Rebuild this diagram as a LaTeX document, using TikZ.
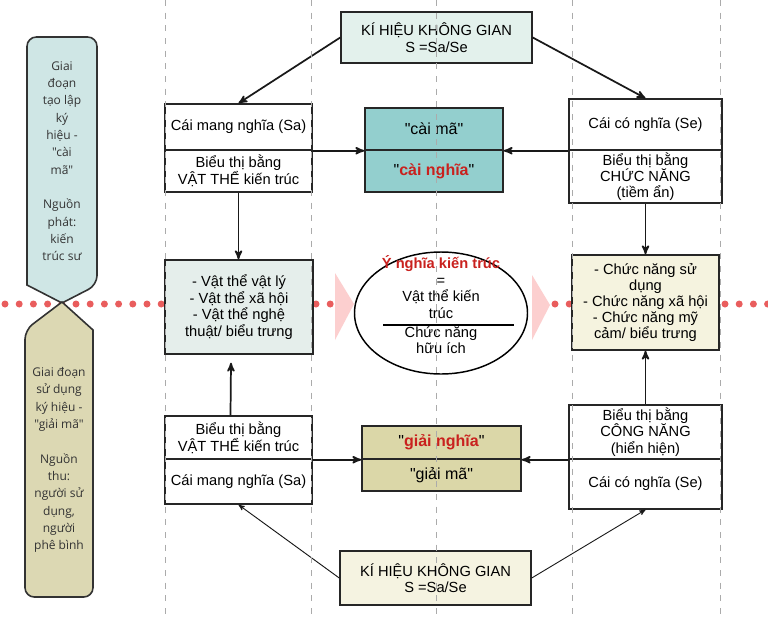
\documentclass[tikz,border=0pt]{standalone}
\usepackage{fontspec}
\setmainfont{Liberation Sans}[Ligatures=TeXOff]
\newfontfamily\pillarfont{Open Sans}[Ligatures=TeXOff]
\usetikzlibrary{arrows,shapes.geometric}
\definecolor{signtop}{HTML}{E3F1EC}
\definecolor{codeteal}{HTML}{93CFCE}
\definecolor{objfill}{HTML}{E5EEEB}
\definecolor{funcfill}{HTML}{F5F3DF}
\definecolor{decodefill}{HTML}{DBD7A8}
\definecolor{signbot}{HTML}{F5F3E1}
\definecolor{stagetop}{HTML}{CFE6E5}
\definecolor{stagebot}{HTML}{DCD8B3}
\definecolor{meanred}{HTML}{C9211E}
\definecolor{chevpink}{HTML}{FCCFCF}
\definecolor{dotred}{HTML}{E95D5D}
\definecolor{guidegray}{HTML}{ABABAB}
\definecolor{inkgray}{HTML}{333333}

\begin{document}
\begin{tikzpicture}[
	x=0.75pt, y=-0.75pt,
	>=stealth',
	font=\fontsize{11}{12.5}\selectfont,
	half/.style={draw=black!85,line width=1.1pt,fill=white,inner sep=0,align=center},
	link/.style={->,line width=1.3pt,black!90},
	thinlink/.style={->,line width=0.7pt,black!90},
	dots/.style={draw=dotred,line width=5.25pt,line cap=round,dash pattern=on 0pt off 10.65pt},
	guide/.style={draw=guidegray,line width=0.6pt,dash pattern=on 4.5pt off 5pt},
	pillar/.style={draw=inkgray,line width=1.2pt},
	ptext/.style={align=center,text=inkgray,font=\pillarfont\fontsize{9}{13}\selectfont}
	]
	\fill[white] (0,0) rectangle (768,618);
	\useasboundingbox (0,0) rectangle (768,618);
	% dotted middle line
	\draw[dots] (5,304) -- (162.5,304);
	\draw[dots] (316,304) -- (331,304);
	\draw[dots] (555,304) -- (570,304);
	\draw[dots] (725,304) -- (768,304);
	\fill[chevpink] (335,273) -- (354,304) -- (335,340) -- cycle;
	\fill[chevpink] (532,275) -- (550,305) -- (532,340) -- cycle;
	% stages
	\draw[pillar,fill=stagetop] (62,303) -- (27,285) [rounded corners=7] -- (27,37) -- (97,37) -- (97,285) [sharp corners] -- cycle;
	\draw[pillar,fill=stagebot] (62,302) -- (93,330) [rounded corners=7] -- (93,597) -- (25,597) -- (25,330) [sharp corners] -- cycle;
	\node[ptext] (stageTop) at (62,161) {Giai\\đoạn\\tạo lập\\ký\\hiệu -\\"cài\\mã"\\[13pt]Nguồn\\phát:\\kiến\\trúc sư};
	\node[ptext] (stageBot) at (59,460) {Giai đoạn\\sử dụng\\ký hiệu -\\"giải mã"\\[13pt]Nguồn\\thu:\\người sử\\dụng,\\người\\phê bình};
	% upper half
	\node[half,fill=signtop,minimum width=143.25pt,minimum height=38.25pt] (signTop) at (436.5,37.5) {KÍ HIỆU KHÔNG GIAN\\S =Sa/Se};
	\node[half,minimum width=110.25pt,minimum height=34.5pt] (saTop) at (238.5,127) {Cái mang nghĩa (Sa)};
	\node[half,minimum width=110.25pt,minimum height=31.5pt] (saBot) at (238.5,171) {Biểu thị bằng\\VẬT THỂ kiến trúc};
	\node[half,fill=codeteal,minimum width=103.5pt,minimum height=31.5pt,font=\fontsize{12}{13}\selectfont] (codeTop) at (434,129) {"cài mã"};
	\node[half,fill=codeteal,minimum width=103.5pt,minimum height=31.5pt,font=\fontsize{12}{13}\selectfont] (codeBot) at (434,171) {"\textcolor{meanred}{\textbf{cài nghĩa}}"};
	\node[half,minimum width=114.75pt,minimum height=38.25pt] (seTop) at (645.5,124.5) {Cái có nghĩa (Se)};
	\node[half,minimum width=114.75pt,minimum height=39.75pt,font=\fontsize{11}{12}\selectfont] (seBot) at (645.5,176.5) {Biểu thị bằng\\CHỨC NĂNG\\(tiềm ẩn)};
	% middle row
	\node[half,fill=objfill,minimum width=111pt,minimum height=70.5pt] (objBox) at (239,307) {- Vật thể vật lý\\- Vật thể xã hội\\- Vật thể nghệ\\thuật/ biểu trưng};
	\node[half,fill=funcfill,minimum width=110.25pt,minimum height=71.25pt,font=\fontsize{11}{12}\selectfont] (funcBox) at (645.5,302.5) {- Chức năng sử\\dụng\\- Chức năng xã hội\\- Chức năng mỹ\\cảm/ biểu trưng};
	\node[draw,ellipse,line width=1.1pt,fill=white,minimum width=129.75pt,minimum height=91.5pt] (meaning) at (441,313) {};
	\node[align=center] (meanTop) at (441,287) {\textcolor{meanred}{\textbf{Ý nghĩa kiến trúc}}\\=\\Vật thể kiến\\trúc};
	\node[align=center] (meanBot) at (441,340) {Chức năng\\hữu ích};
	\draw[line width=1pt] (383,325) -- (514,325);
	% lower half
	\node[half,minimum width=110.25pt,minimum height=32.25pt] (useSaTop) at (238.5,437.5) {Biểu thị bằng\\VẬT THỂ kiến trúc};
	\node[half,minimum width=110.25pt,minimum height=33.75pt] (useSaBot) at (238.5,481.5) {Cái mang nghĩa (Sa)};
	\node[half,fill=decodefill,minimum width=119.25pt,minimum height=24.75pt,font=\fontsize{12}{13}\selectfont] (decodeTop) at (441.5,442.5) {"\textcolor{meanred}{\textbf{giải nghĩa}}"};
	\node[half,fill=decodefill,minimum width=119.25pt,minimum height=24pt,font=\fontsize{12}{13}\selectfont] (decodeBot) at (441.5,475) {"giải mã"};
	\node[half,minimum width=114.75pt,minimum height=40.5pt,font=\fontsize{11}{12.5}\selectfont] (useSeTop) at (645.5,432) {Biểu thị bằng\\CÔNG NĂNG\\(hiển hiện)};
	\node[half,minimum width=114.75pt,minimum height=37.5pt] (useSeBot) at (645.5,484) {Cái có nghĩa (Se)};
	\node[half,fill=signbot,minimum width=143.25pt,minimum height=40.5pt] (signBot) at (435.5,578) {KÍ HIỆU KHÔNG GIAN\\S =Sa/Se};
	% connectors
	\draw[link] (signTop.west) -- (saTop.north);
	\draw[link] (signTop.east) -- (seTop.north);
	\draw[link] (saTop.south east) -- (codeTop.south west);
	\draw[link] (seTop.south west) -- (codeTop.south east);
	\draw[link] (saBot.south) -- (saBot.south |- objBox.north);
	\draw[link] (seBot.south) -- (funcBox.north);
	\draw[link] ([xshift=-6pt]useSaTop.north) -- ([xshift=-6pt,yshift=-6pt]objBox.south);
	\draw[link] (useSeTop.north) -- (funcBox.south);
	\draw[link] (useSaTop.south east) -- (decodeTop.south west);
	\draw[link] (useSeTop.south west) -- (decodeTop.south east);
	\draw[thinlink] (signBot.west) -- (useSaBot.south);
	\draw[thinlink] (signBot.east) -- (useSeBot.south);
	% guide lines
	\draw[guide] (165,0) -- (165,618);
	\draw[guide] (311,0) -- (311,618);
	\draw[guide] (436,0) -- (436,618);
	\draw[guide] (572,0) -- (572,618);
	\draw[guide] (720,0) -- (720,618);
\end{tikzpicture}
\end{document}
